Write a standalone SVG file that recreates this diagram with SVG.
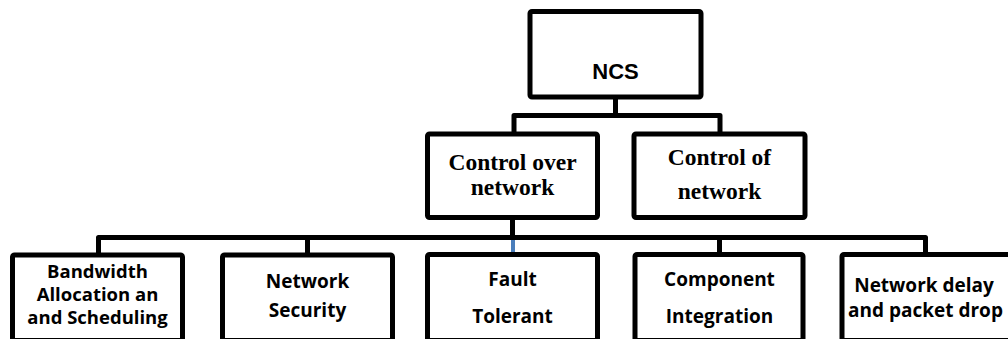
<svg xmlns="http://www.w3.org/2000/svg" width="1008" height="339" viewBox="0 0 1008 339">
<style>
.box{fill:#fff;stroke:#000;stroke-width:5;stroke-linejoin:round}
.conn{fill:none;stroke:#000;stroke-width:5;stroke-linejoin:round;stroke-linecap:butt}
.t1{font-family:"Liberation Sans",Arial,sans-serif;font-weight:bold;font-size:22px;text-anchor:middle;fill:#000}
.t2{font-family:"Liberation Serif","Times New Roman",serif;font-weight:bold;font-size:23.5px;text-anchor:middle;fill:#000}
.t3{font-family:"Open Sans",sans-serif;font-weight:bold;font-size:19px;text-anchor:middle;fill:#000}
.t4{font-family:"Open Sans",sans-serif;font-weight:bold;font-size:18.5px;text-anchor:middle;fill:#000}
</style>
<rect width="1008" height="339" fill="#fff"/>
<g id="connectors">
<path class="conn" d="M615.5 97 V115.5 M514 134 V115.5 H720 V134"/>
<path class="conn" d="M512.5 217.5 V237.5"/>
<path class="conn" d="M98.5 255 V237.5 H925.5 V255 M307.5 237.5 V255 M719.5 237.5 V255"/>
<path d="M513 240 V252" fill="none" stroke="#4a7ebb" stroke-width="4"/>
</g>
<g id="ncs">
<rect class="box" x="530" y="11.5" width="171" height="85.5" rx="2"/>
<text class="t1" x="615.5" y="79">NCS</text>
</g>
<g id="control-over-network">
<rect class="box" x="427.5" y="134" width="170" height="83.5" rx="2"/>
<text class="t2" x="512.5" y="170">Control over</text>
<text class="t2" x="512.5" y="195">network</text>
</g>
<g id="control-of-network">
<rect class="box" x="634" y="134" width="171" height="83.5" rx="2"/>
<text class="t2" x="719.5" y="165">Control of</text>
<text class="t2" x="719.5" y="199">network</text>
</g>
<g id="bandwidth">
<rect class="box" x="12.5" y="255" width="170" height="85.5" rx="2"/>
<text class="t4" x="97.5" y="278.3">Bandwidth</text>
<text class="t4" x="97.5" y="301">Allocation an</text>
<text class="t4" x="97.5" y="324.3">and Scheduling</text>
</g>
<g id="network-security">
<rect class="box" x="222.5" y="255" width="170" height="85.5" rx="2"/>
<text class="t3" x="307.5" y="288.3">Network</text>
<text class="t3" x="307.5" y="316.7">Security</text>
</g>
<g id="fault-tolerant">
<rect class="box" x="427.5" y="254.5" width="170" height="86" rx="2"/>
<text class="t3" x="512.5" y="286">Fault</text>
<text class="t3" x="512.5" y="322.7">Tolerant</text>
</g>
<g id="component-integration">
<rect class="box" x="635" y="254.5" width="168" height="86" rx="2"/>
<text class="t3" x="719.5" y="286">Component</text>
<text class="t3" x="719.5" y="322.7">Integration</text>
</g>
<g id="network-delay">
<rect class="box" x="842" y="254.5" width="180" height="86" rx="2"/>
<text class="t3" x="924" y="291.7">Network delay</text>
<text class="t3" x="925.5" y="316.7">and packet drop</text>
</g>
</svg>
